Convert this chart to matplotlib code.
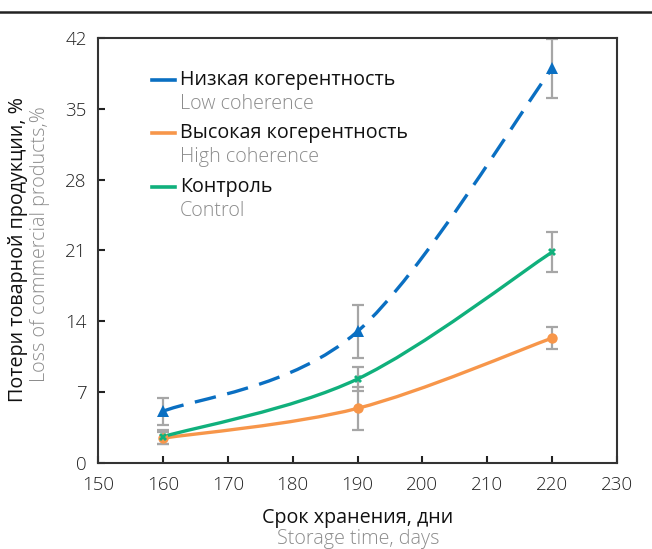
import matplotlib.pyplot as plt
from matplotlib.path import Path
from matplotlib.patches import PathPatch
from matplotlib.lines import Line2D

plt.rcParams['font.family'] = ['Open Sans', 'DejaVu Sans']

# storage time, days
days = [160, 190, 220]

# loss of commercial products, %
low_coh = [5.1, 13.0, 39.0]
low_err = [1.3, 2.6, 2.9]
high_coh = [2.45, 5.4, 12.35]
high_err = [0.6, 2.1, 1.1]
control = [2.6, 8.3, 20.85]
control_err = [0.7, 1.2, 2.0]

names_ru = ['Низкая когерентность', 'Высокая когерентность', 'Контроль']
names_en = ['Low coherence', 'High coherence', 'Control']

x_ticks = list(range(150, 231, 10))
y_ticks = [0, 7, 14, 21, 28, 35, 42]

BLUE = '#0a6fc2'
ORANGE = '#f7964a'
GREEN = '#10b07c'
GREY = '#8c8c8c'
ERR = '#a6a6a6'
TXT = 14.2


def smooth_path(xs, ys):
    # Catmull-Rom style bezier through the points (like a spreadsheet "smoothed line")
    pts = list(zip(xs, ys))
    verts = [pts[0]]
    codes = [Path.MOVETO]
    n = len(pts)
    for i in range(n - 1):
        p0 = pts[i - 1] if i > 0 else pts[i]
        p1 = pts[i]
        p2 = pts[i + 1]
        p3 = pts[i + 2] if i + 2 < n else pts[i + 1]
        c1 = (p1[0] + (p2[0] - p0[0]) / 6, p1[1] + (p2[1] - p0[1]) / 6)
        c2 = (p2[0] - (p3[0] - p1[0]) / 6, p2[1] - (p3[1] - p1[1]) / 6)
        verts += [c1, c2, p2]
        codes += [Path.CURVE4] * 3
    return Path(verts, codes)


fig = plt.figure(figsize=(6.52, 5.49), dpi=100)
ax = fig.add_axes([98 / 652, 1 - 463 / 549, 519 / 652, 425 / 549])

series = [
    (low_coh, low_err, BLUE, '^', (0, (6.5, 3.5)), 8),
    (high_coh, high_err, ORANGE, 'o', '-', 7.5),
    (control, control_err, GREEN, 'X', '-', 6),
]

for vals, errs, color, marker, ls, ms in series:
    ax.errorbar(days, vals, yerr=errs, fmt='none', ecolor=ERR, elinewidth=1.6,
                capsize=4, capthick=1.6, zorder=2, clip_on=True)
    patch = PathPatch(smooth_path(days, vals), facecolor='none', edgecolor=color,
                      linewidth=2.4, linestyle=ls, zorder=3, capstyle='butt')
    ax.add_patch(patch)
    ax.plot(days, vals, linestyle='none', marker=marker, color=color,
            markersize=ms, markeredgewidth=0, zorder=4)

ax.set_xlim(150, 230)
ax.set_ylim(0, 42)
ax.set_xticks(x_ticks)
ax.set_yticks(y_ticks)
ax.tick_params(direction='in', length=5, width=1.5, labelsize=13.5,
               colors='#222222', top=False, right=False)
ax.tick_params(axis='x', pad=9)
ax.tick_params(axis='y', pad=8)
for lbl in ax.get_xticklabels() + ax.get_yticklabels():
    lbl.set_fontweight('light')
for sp in ax.spines.values():
    sp.set_color('#333333')
    sp.set_linewidth(1.5)

# legend written by hand: russian name with english translation under it
leg_y = [80, 133, 187]
for (vals, errs, color, marker, ls, ms), ru, en, yy in zip(series, names_ru, names_en, leg_y):
    fy = 1 - yy / 549
    fig.add_artist(Line2D([152 / 652, 175 / 652], [fy, fy], color=color, linewidth=2.6))
    fig.text(180 / 652, fy, ru, fontsize=TXT, color='#111111', va='center', ha='left')
    fig.text(180 / 652, fy - 24 / 549, en, fontsize=TXT, color=GREY, va='center', ha='left',
             fontweight='light')

# axis titles
fig.text(18 / 652, 1 - 250 / 549, 'Потери товарной продукции, %', rotation=90,
         fontsize=TXT, color='#111111', va='center', ha='center')
fig.text(40 / 652, 1 - 244 / 549, 'Loss of commercial products,%', rotation=90,
         fontsize=TXT, color=GREY, va='center', ha='center', fontweight='light')
fig.text(358 / 652, 1 - 518 / 549, 'Срок хранения, дни', fontsize=TXT,
         color='#111111', va='center', ha='center')
fig.text(358 / 652, 1 - 539 / 549, 'Storage time, days', fontsize=TXT,
         color=GREY, va='center', ha='center', fontweight='light')

# rule across the top
fig.add_artist(Line2D([0, 1], [1 - 12 / 549, 1 - 12 / 549], color='#222222', linewidth=1.8))

fig.savefig('out.png', dpi=100)
